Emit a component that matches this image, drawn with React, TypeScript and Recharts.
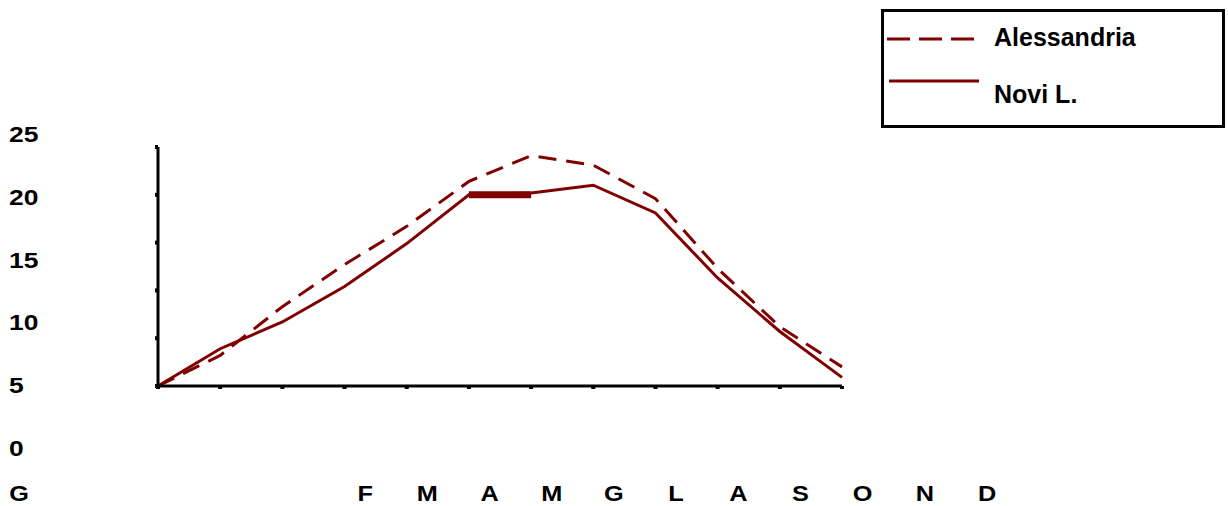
import { LineChart, Line, XAxis, YAxis } from "recharts";

// Monthly mean temperatures (°C)
const months = ["G", "F", "M", "A", "M", "G", "L", "A", "S", "O", "N", "D"];
const alessandria = [0, 3.2, 8.3, 12.7, 16.7, 21.4, 24.1, 23.1, 19.6, 12.3, 6.2, 2.0];
const noviLigure = [0, 3.9, 6.7, 10.4, 14.9, 20.0, 20.2, 21.0, 18.1, 11.3, 5.7, 0.9];
// thick flat stroke between G and L
const marker = [null, null, null, null, null, 20, 20, null, null, null, null, null];
const yTicks = [0, 5, 10, 15, 20, 25];

const RED = "#800000";
const FONT = "'Liberation Sans', Arial, sans-serif";

const data = months.map((m, i) => ({
  month: m,
  alessandria: alessandria[i],
  novi: noviLigure[i],
  marker: marker[i],
}));

// labels in the source are drawn a bit wide, hence the horizontal stretch
function YTick({ payload }: any) {
  const v = payload?.value ?? 0;
  return (
    <text
      transform={`translate(9, ${448 - v * 12.54}) scale(1.2, 1)`}
      dominantBaseline="central"
      fontSize={22}
      fontWeight="bold"
      fontFamily={FONT}
      fill="#000"
    >
      {v}
    </text>
  );
}

function XTick({ x = 0, payload, index = 0 }: any) {
  const cx = index === 0 ? 19 : x + 145;
  return (
    <text
      transform={`translate(${cx}, 494) scale(1.15, 1)`}
      textAnchor="middle"
      dominantBaseline="central"
      fontSize={22}
      fontWeight="bold"
      fontFamily={FONT}
      fill="#000"
    >
      {payload?.value}
    </text>
  );
}

function LegendBox() {
  return (
    <svg width={346} height={120} style={{ display: "block" }}>
      <rect x={1.5} y={1.5} width={341} height={116} fill="#fff" stroke="#000" strokeWidth={3} />
      <line x1={6} y1={30} x2={96} y2={30} stroke={RED} strokeWidth={3} strokeDasharray="23 9" />
      <text x={113} y={28} dominantBaseline="central" fontSize={25} fontWeight="bold" fontFamily={FONT}>
        Alessandria
      </text>
      <line x1={8} y1={72} x2={98} y2={72} stroke={RED} strokeWidth={3} />
      <text x={113} y={85} dominantBaseline="central" fontSize={25} fontWeight="bold" fontFamily={FONT}>
        Novi L.
      </text>
    </svg>
  );
}

export default function App() {
  return (
    <div style={{ position: "absolute", left: 0, top: 0, width: 1228, height: 506, background: "#fff" }}>
      <LineChart
        width={1228}
        height={506}
        data={data}
        margin={{ top: 147, right: 386, bottom: 119, left: 157 }}
      >
        <XAxis
          dataKey="month"
          height={1}
          axisLine={{ stroke: "#000", strokeWidth: 3 }}
          tickLine={{ stroke: "#000", strokeWidth: 4 }}
          tickSize={3}
          tick={<XTick />}
          interval={0}
        />
        <YAxis
          domain={[0, 25]}
          ticks={yTicks}
          width={1}
          axisLine={{ stroke: "#000", strokeWidth: 3 }}
          tickLine={{ stroke: "#000", strokeWidth: 4 }}
          tickSize={3}
          tick={<YTick />}
          interval={0}
        />
        <Line
          type="linear"
          dataKey="alessandria"
          name="Alessandria"
          stroke={RED}
          strokeWidth={3}
          strokeDasharray="18 10"
          dot={false}
          isAnimationActive={false}
        />
        <Line
          type="linear"
          dataKey="novi"
          name="Novi L."
          stroke={RED}
          strokeWidth={3}
          dot={false}
          isAnimationActive={false}
        />
        <Line
          type="linear"
          dataKey="marker"
          stroke={RED}
          strokeWidth={7}
          strokeLinecap="butt"
          dot={false}
          legendType="none"
          isAnimationActive={false}
        />
      </LineChart>
      <div style={{ position: "absolute", left: 881, top: 9 }}>
        <LegendBox />
      </div>
    </div>
  );
}
